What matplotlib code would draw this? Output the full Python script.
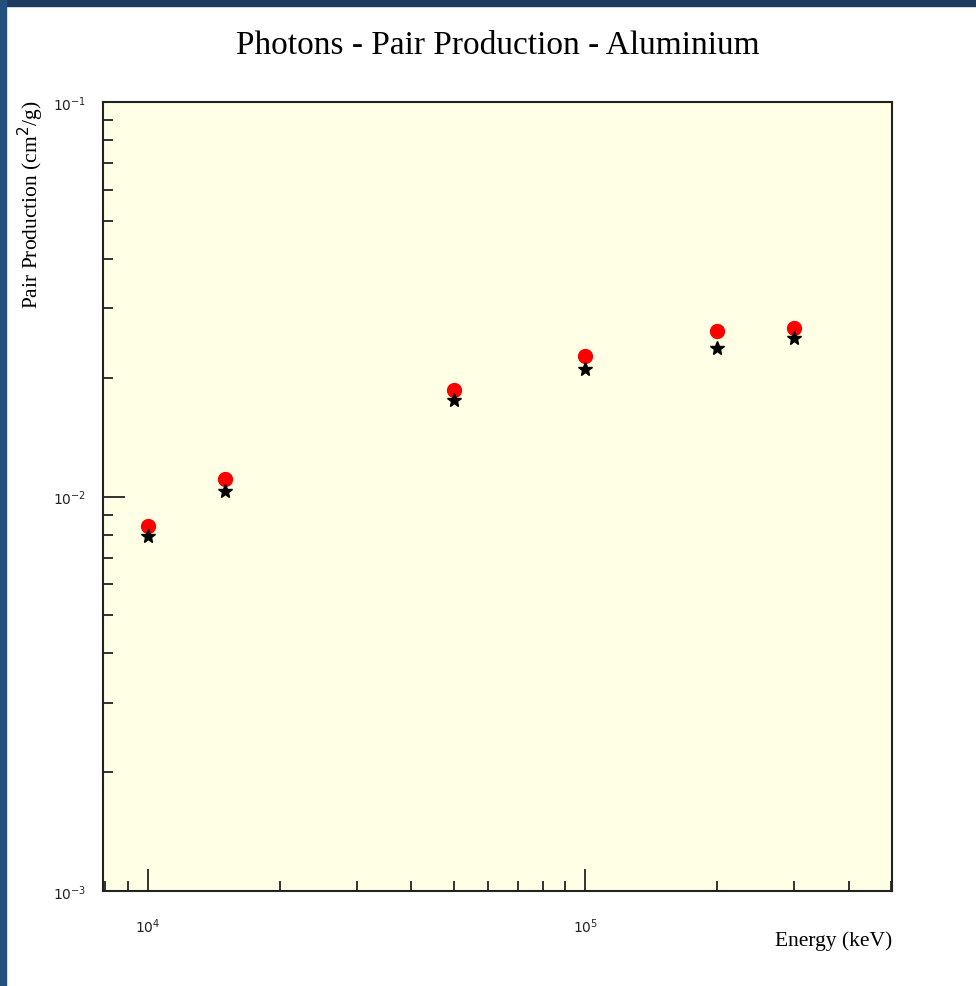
import matplotlib
matplotlib.use("Agg")
import matplotlib.pyplot as plt
from matplotlib.patches import Rectangle
from matplotlib.ticker import LogLocator, FixedLocator, FixedFormatter, NullFormatter

# data (energy in keV, cross section in cm2/g)
energy = [1.0e4, 1.5e4, 5.0e4, 1.0e5, 2.0e5, 3.0e5]
pair_red = [0.00842, 0.01107, 0.01866, 0.02275, 0.02623, 0.02669]
pair_star = [0.00794, 0.01035, 0.01756, 0.02104, 0.02379, 0.02523]

x_ticks = [1e4, 1e5]
x_tick_labels = [r'$10^{4}$', r'$10^{5}$']
y_ticks = [1e-3, 1e-2, 1e-1]
y_tick_labels = [r'$10^{-3}$', r'$10^{-2}$', r'$10^{-1}$']

fig = plt.figure(figsize=(9.76, 9.87), dpi=100)
fig.patch.set_facecolor('white')

# blue page border (top and left)
fig.patches.append(Rectangle((0, 1 - 7 / 987), 1, 7 / 987, transform=fig.transFigure,
                             color='#1e3a5c', zorder=0))
fig.patches.append(Rectangle((0, 0), 6 / 976, 1, transform=fig.transFigure,
                             color='#24507e', zorder=0))

ax = fig.add_axes([103 / 976, 1 - 892 / 987, 789 / 976, 789 / 987])
ax.set_facecolor('#ffffe6')
ax.set_xscale('log')
ax.set_yscale('log')
ax.set_xlim(7.9e3, 5.02e5)
ax.set_ylim(1e-3, 1e-1)

ax.plot(energy, pair_red, 'o', color='red', markersize=10, zorder=3)
ax.plot(energy, pair_star, '*', color='black', markersize=10, zorder=4)

for s in ax.spines.values():
    s.set_linewidth(1.5)
    s.set_color('#222222')

ax.xaxis.set_major_locator(FixedLocator(x_ticks))
ax.xaxis.set_major_formatter(FixedFormatter(x_tick_labels))
ax.yaxis.set_major_locator(FixedLocator(y_ticks))
ax.yaxis.set_major_formatter(FixedFormatter(y_tick_labels))
ax.xaxis.set_minor_locator(LogLocator(base=10, subs=range(2, 10)))
ax.yaxis.set_minor_locator(LogLocator(base=10, subs=range(2, 10)))
ax.xaxis.set_minor_formatter(NullFormatter())
ax.yaxis.set_minor_formatter(NullFormatter())

ax.tick_params(which='both', direction='in', top=False, right=False, width=1.3, colors='#222222')
ax.tick_params(which='major', length=16, labelsize=10)
ax.tick_params(axis='x', which='major', pad=18)
ax.tick_params(axis='y', which='major', pad=12)
ax.tick_params(which='minor', length=7)

fig.text(498 / 976, 1 - 46 / 987, 'Photons - Pair Production - Aluminium',
         ha='center', va='center', fontsize=24, family='Liberation Serif')
fig.text(892 / 976, 1 - 941 / 987, 'Energy (keV)', ha='right', va='center',
         fontsize=15.5, family='Liberation Serif')
fig.text(31 / 976, 1 - 100 / 987, r'Pair Production (cm$^2$/g)', ha='center', va='top',
         rotation=90, fontsize=15.5, family='Liberation Serif')

fig.savefig('out.png', dpi=100)
